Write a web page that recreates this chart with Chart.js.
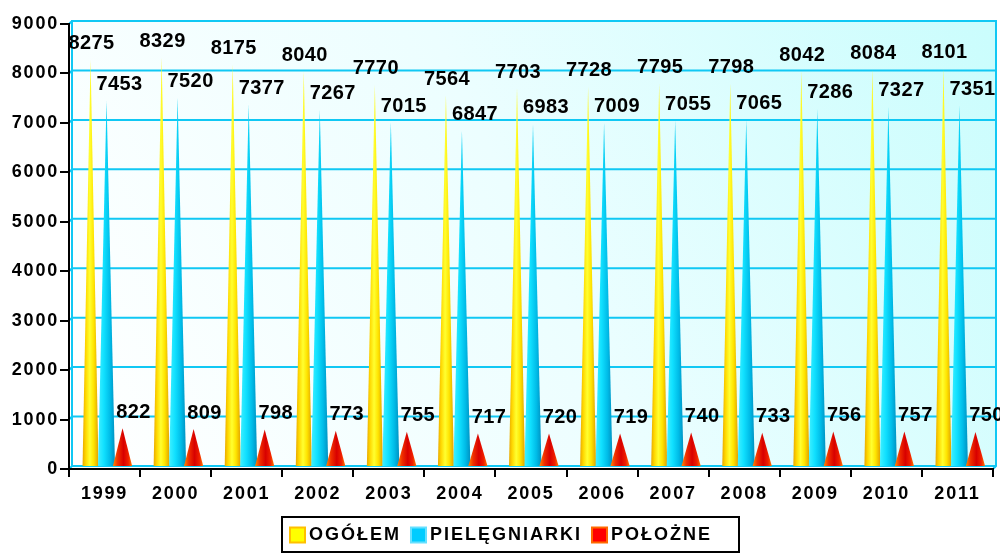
<!DOCTYPE html>
<html><head><meta charset="utf-8">
<script src="https://cdn.jsdelivr.net/npm/chart.js@4.4.1/dist/chart.umd.min.js"></script>
<style>html,body{margin:0;padding:0;background:#fff;overflow:hidden}canvas{display:block}</style>
</head><body>
<div style="width:1000px;height:554px"><canvas id="c" width="1000" height="554"></canvas></div>
<script>
const years = ['1999','2000','2001','2002','2003','2004','2005','2006','2007','2008','2009','2010','2011'];
const ogolem = [8275,8329,8175,8040,7770,7564,7703,7728,7795,7798,8042,8084,8101];
const pielegniarki = [7453,7520,7377,7267,7015,6847,6983,7009,7055,7065,7286,7327,7351];
const polozne = [822,809,798,773,755,717,720,719,740,733,756,757,750];
const seriesNames = ['OGÓŁEM','PIELĘGNIARKI','POŁOŻNE'];
const yMin = 0, yMax = 9000, yStep = 1000;

const FONT = '"Liberation Sans", Arial, sans-serif';
const coneStyles = [
  {stops:[[0,'#e8a800'],[0.2,'#ffd800'],[0.45,'#ffff30'],[0.7,'#ffe400'],[1,'#e0a000']], scale:1.0, shift:2, dx:1, legendFill:'#ffff00', legendStroke:'#ffc000'},
  {stops:[[0,'#40f0ff'],[0.35,'#10e0ff'],[0.7,'#00bce8'],[1,'#0090c0']], scale:1.06, shift:2, dx:13, legendFill:'#00ccff', legendStroke:'#66e0ff'},
  {stops:[[0,'#ff8a00'],[0.25,'#f03000'],[0.55,'#d80000'],[0.8,'#f02000'],[1,'#ff7a00']], scale:1.2, shift:2, dx:11, legendFill:'#ff0000', legendStroke:'#ff6a00'}
];

const conePlugin = {
  id: 'cone3d',
  beforeDraw(chart) {
    const {ctx, chartArea: a, scales: {y}} = chart;
    const d = 3;
    const L = a.left + d, T = a.top - d, R = a.right + 3, B = a.bottom - d;
    ctx.save();
    const g = ctx.createLinearGradient(L, B, R, T);
    g.addColorStop(0, '#ffffff');
    g.addColorStop(0.5, '#ecfeff');
    g.addColorStop(1, '#cafdfd');
    ctx.fillStyle = g;
    ctx.fillRect(L, T, R - L, B - T);
    ctx.strokeStyle = '#10c8f4';
    ctx.lineWidth = 2;
    y.ticks.forEach(t => {
      const py = y.getPixelForValue(t.value);
      ctx.beginPath();
      ctx.moveTo(a.left, py);
      ctx.lineTo(L, py - d);
      ctx.lineTo(R, py - d);
      ctx.stroke();
    });
    ctx.beginPath();
    ctx.moveTo(L, B); ctx.lineTo(L, T); ctx.lineTo(R, T); ctx.lineTo(R, B);
    ctx.lineTo(a.right, a.bottom);
    ctx.stroke();
    ctx.restore();
    ctx.letterSpacing = '1.8px';
  },
  beforeDatasetsDraw(chart) {
    chart.ctx.letterSpacing = '0px';
  },
  afterDatasetsDraw(chart) {
    const ctx = chart.ctx;
    ctx.save();
    ctx.letterSpacing = '0px';
    const labels = [];
    chart.data.datasets.forEach((ds, i) => {
      const st = coneStyles[i];
      const meta = chart.getDatasetMeta(i);
      meta.data.forEach((el, j) => {
        const p = el.getProps(['x', 'y', 'base', 'width'], true);
        const cx = p.x + st.shift, hw = p.width * st.scale / 2;
        const g = ctx.createLinearGradient(cx - hw, 0, cx + hw, 0);
        st.stops.forEach(([o, c]) => g.addColorStop(o, c));
        ctx.beginPath();
        ctx.moveTo(cx - hw, p.base - 2);
        ctx.lineTo(cx, p.y);
        ctx.lineTo(cx + hw, p.base - 2);
        ctx.closePath();
        ctx.fillStyle = g;
        ctx.fill();
        labels.push([String(ds.data[j]), cx + st.dx, p.y - 16]);
      });
    });
    ctx.font = 'bold 20px ' + FONT;
    ctx.letterSpacing = '0.4px';
    ctx.fillStyle = '#000';
    ctx.textAlign = 'center';
    ctx.textBaseline = 'middle';
    labels.forEach(([t, x, y]) => ctx.fillText(t, x, y));
    ctx.restore();
  },
  afterDraw(chart) {
    const ctx = chart.ctx;
    ctx.save();
    ctx.letterSpacing = '2px';
    ctx.font = 'bold 18px ' + FONT;
    const bx = 282, by = 517, bw = 457, bh = 35;
    ctx.fillStyle = '#fff';
    ctx.fillRect(bx, by, bw, bh);
    ctx.strokeStyle = '#000';
    ctx.lineWidth = 2;
    ctx.strokeRect(bx, by, bw, bh);
    let x = bx + 8;
    const cy = by + bh / 2 + 1;
    ctx.textBaseline = 'middle';
    ctx.textAlign = 'left';
    chart.data.datasets.forEach((ds, i) => {
      const st = coneStyles[i];
      ctx.fillStyle = st.legendFill;
      ctx.fillRect(x, cy - 8, 15, 15);
      ctx.strokeStyle = st.legendStroke;
      ctx.lineWidth = 2;
      ctx.strokeRect(x, cy - 8, 15, 15);
      x += 19;
      ctx.fillStyle = '#000';
      ctx.fillText(ds.label, x, cy);
      x += ctx.measureText(ds.label).width + 10;
    });
    ctx.restore();
  }
};

new Chart(document.getElementById('c'), {
  type: 'bar',
  data: {
    labels: years,
    datasets: [
      {label: seriesNames[0], data: ogolem, backgroundColor: 'rgba(0,0,0,0)'},
      {label: seriesNames[1], data: pielegniarki, backgroundColor: 'rgba(0,0,0,0)'},
      {label: seriesNames[2], data: polozne, backgroundColor: 'rgba(0,0,0,0)'}
    ]
  },
  options: {
    responsive: false,
    devicePixelRatio: 1,
    animation: false,
    categoryPercentage: 0.675,
    barPercentage: 1,
    layout: {padding: {left: 0, top: 24, right: 7, bottom: 45}},
    plugins: {legend: {display: false}, tooltip: {enabled: false}},
    scales: {
      x: {
        grid: {drawOnChartArea: false, offset: true, tickLength: 8, tickColor: '#000', lineWidth: 2},
        border: {color: '#000', width: 2},
        ticks: {color: '#000', font: {family: FONT, size: 18, weight: 'bold'}, padding: 6, maxRotation: 0},
        afterFit: s => { s.height = 40; }
      },
      y: {
        min: yMin, max: yMax,
        grid: {drawOnChartArea: false, tickLength: 9, tickColor: '#000', lineWidth: 2},
        border: {color: '#000', width: 2},
        ticks: {stepSize: yStep, color: '#000', font: {family: FONT, size: 18, weight: 'bold'}, padding: 1,
                callback: v => String(v)},
        afterFit: s => { s.width = 69; }
      }
    }
  },
  plugins: [conePlugin]
});
</script>
</body></html>
